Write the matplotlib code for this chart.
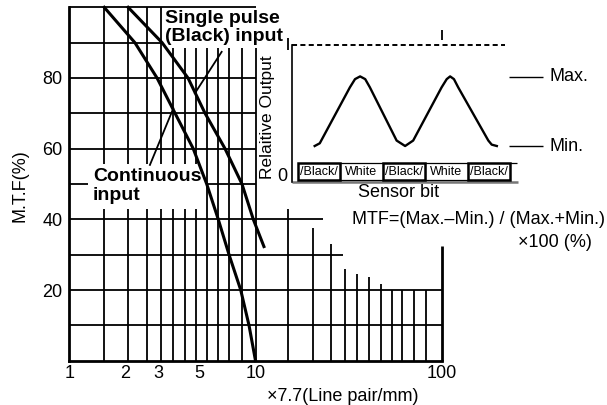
import matplotlib
matplotlib.use("Agg")
import matplotlib.pyplot as plt
from matplotlib.patches import Rectangle
from matplotlib.ticker import NullLocator

plt.rcParams['font.family'] = ['Liberation Sans', 'DejaVu Sans']

# MTF curves (x in units of x7.7 line pair/mm, y in %)
cont_x = [1.54, 2.25, 2.96, 3.70, 4.63, 5.47, 6.31, 7.21, 8.33, 9.23, 10.0]
cont_y = [100, 90, 80, 70, 60, 50, 40, 30, 20, 10, 0]
single_x = [2.07, 3.15, 4.34, 5.36, 6.86, 8.46, 9.73, 11.1]
single_y = [100, 90, 80, 70, 60, 50, 40, 32.3]

# leader lines from the labels to the curves
single_arrow_x = [6.58, 4.73]
single_arrow_y = [87.4, 75.7]
cont_arrow_x = [2.71, 3.62]
cont_arrow_y = [55.4, 71.4]

x_ticks = [1, 2, 3, 5, 10, 100]
x_ticklabels = ['1', '2', '3', '5', '10', '100']
y_ticks = [20, 40, 60, 80]

# the grid as drawn in the original chart (stepped at the right)
grid_y = [10, 20, 30, 40, 50, 60, 70, 80, 90]
grid_y_end = [100, 100, 29.6, 23, 10, 10, 10, 10, 10]
grid_x = [1.54, 2.07, 2.6, 3.1, 3.62, 4.18, 4.79, 5.47, 6.3, 7.2, 8.43, 10,
          15, 20.3, 25.3, 30.2, 35.2, 40.8, 47, 53.9, 61.4, 71, 82.4]
grid_x_top = [100] * 12 + [42.8, 37.5, 33.0, 25.9, 24.5, 23.6, 21.6, 20, 20, 20, 20]

# inset: relative output over the sensor bits
bits = ['Black', 'White', 'Black', 'White', 'Black']
wave_x = [0.40, 0.52, 1.23, 1.35, 1.47, 1.59, 1.70, 2.33, 2.53, 2.72,
          3.39, 3.51, 3.59, 3.68, 3.78, 4.49, 4.57, 4.69]
wave_y = [0.26, 0.28, 0.69, 0.75, 0.77, 0.75, 0.69, 0.30, 0.26, 0.30,
          0.69, 0.75, 0.77, 0.75, 0.69, 0.30, 0.27, 0.26]
out_max = 0.767
out_min = 0.26

W, H = 607, 405
fig = plt.figure(figsize=(W / 100, H / 100), dpi=100)
fig.patch.set_facecolor('white')

ax = fig.add_axes([69.3 / W, 1 - 360.7 / H, 372.4 / W, 353.4 / H])
ax.set_xscale('log')
ax.set_xlim(1, 100)
ax.set_ylim(0, 100)
ax.patch.set_visible(False)
ax.spines['top'].set_visible(False)
ax.spines['right'].set_visible(False)
ax.spines['left'].set_linewidth(2.0)
ax.spines['bottom'].set_linewidth(2.0)

ax.set_xticks(x_ticks)
ax.set_xticklabels(x_ticklabels)
ax.xaxis.set_minor_locator(NullLocator())
ax.set_yticks(y_ticks)
ax.tick_params(axis='both', length=0, labelsize=13)
ax.tick_params(axis='x', pad=3)
ax.tick_params(axis='y', pad=5)

lw_grid = 1.3
ax.hlines(grid_y, 1, grid_y_end, color='black', lw=lw_grid, zorder=1)
ax.vlines(grid_x, 0, grid_x_top, color='black', lw=lw_grid, zorder=1)
# frame pieces
ax.hlines(100, 1, 10, color='black', lw=lw_grid, zorder=5, clip_on=False)
ax.vlines(100, 0, 32.5, color='black', lw=2.0, zorder=5, clip_on=False)
ax.vlines(100, 90.8, 93.6, color='black', lw=lw_grid, clip_on=False)
ax.vlines(15, 87.9, 91.3, color='black', lw=lw_grid, clip_on=False)

ax.plot(cont_x, cont_y, color='black', lw=2.2, zorder=4, clip_on=False)
ax.plot(single_x, single_y, color='black', lw=2.2, zorder=4, clip_on=False)
ax.plot(single_arrow_x, single_arrow_y, color='black', lw=1.3, zorder=4)
ax.plot(cont_arrow_x, cont_arrow_y, color='black', lw=1.3, zorder=4)

box = dict(facecolor='white', edgecolor='none', pad=2)
ax.text(3.27, 99.3, 'Single pulse\n(Black) input', fontsize=14, fontweight='bold',
        ha='left', va='top', linespacing=1.13, bbox=box, zorder=3)
ax.text(1.34, 54.4, 'Continuous\ninput', fontsize=14, fontweight='bold',
        ha='left', va='top', linespacing=1.1,
        bbox=dict(facecolor='white', edgecolor='none', pad=3.5), zorder=3)

ax.text(-0.132, 0.494, 'M.T.F(%)', transform=ax.transAxes, rotation=90,
        ha='center', va='center', fontsize=13)
ax.text(0.735, -0.10, '×7.7(Line pair/mm)', transform=ax.transAxes,
        ha='center', va='center', fontsize=13)

# inset
ax2 = fig.add_axes([292.3 / W, 1 - 181.5 / H, (W - 292.3) / W, 136.5 / H])
ax2.set_xlim(-0.127, 7.285)
ax2.set_ylim(0, 1)
ax2.patch.set_visible(False)
for s in ['top', 'right', 'bottom']:
    ax2.spines[s].set_visible(False)
ax2.spines['left'].set_linewidth(1.2)
ax2.set_xticks([])
ax2.set_yticks([])

ax2.hlines(1.0, -0.127, 4.88, color='black', lw=1.4, linestyle=(0, (2.6, 1.7)), clip_on=False)
ax2.hlines(0, -0.127, 5.195, color='#777777', lw=1.8, clip_on=False)

for i, name in enumerate(bits):
    black = name == 'Black'
    ax2.add_patch(Rectangle((i, 0.011), 1, 0.127, facecolor='white', edgecolor='black',
                            lw=1.8 if black else 0.9, zorder=3 if black else 2, clip_on=False))
    ax2.text(i + 0.5, 0.072, '/' + name + '/' if black else name, ha='center', va='center',
             fontsize=9, zorder=4)
ax2.hlines(0.138, 5, 5.16, color='black', lw=0.9)

ax2.plot(wave_x, wave_y, color='black', lw=1.7, solid_joinstyle='round')
ax2.hlines([out_max, out_min], 4.976, 5.777, color='black', lw=1.0)
ax2.text(5.92, out_max, 'Max.', ha='left', va='center', fontsize=13)
ax2.text(5.92, out_min, 'Min.', ha='left', va='center', fontsize=13)

ax2.text(-0.70, 0.47, 'Relaitive Output', rotation=90, ha='center', va='center', fontsize=12.5)
ax2.text(-0.358, 0.04, '0', ha='center', va='center', fontsize=13)
ax2.text(2.385, -0.081, 'Sensor bit', ha='center', va='center', fontsize=13)
ax2.text(7.24, -0.275, 'MTF=(Max.–Min.) / (Max.+Min.)', ha='right', va='center', fontsize=13)
ax2.text(6.93, -0.45, '×100 (%)', ha='right', va='center', fontsize=13)

fig.savefig('out.png', dpi=100)
